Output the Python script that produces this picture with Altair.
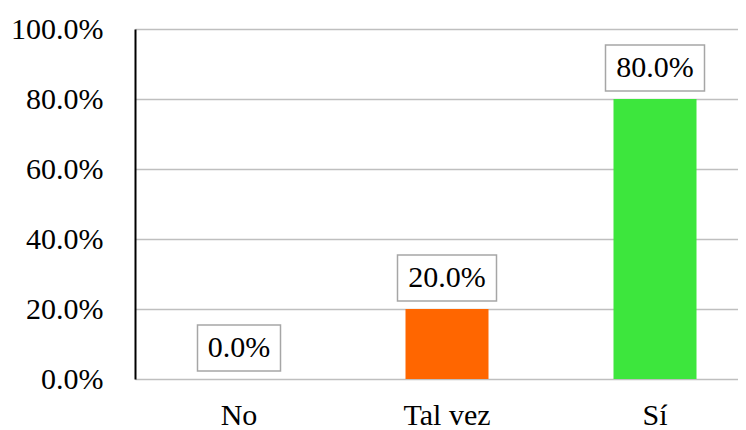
import altair as alt
import pandas as pd

categories = ["No", "Tal vez", "Sí"]
values = [0.0, 0.2, 0.8]
labels = ["0.0%", "20.0%", "80.0%"]
bar_colors = ["#4472C4", "#FF6600", "#3DE63D"]

df = pd.DataFrame({"cat": categories, "val": values, "lab": labels})

FONT = "Liberation Serif"

x_enc = alt.X("cat:N", sort=categories, title=None,
              scale=alt.Scale(range=[0, 624], paddingInner=0, paddingOuter=0),
              axis=alt.Axis(labelAngle=0, domain=False, ticks=False, labelPadding=21,
                            labelFont=FONT, labelFontSize=30, labelColor="black"))
y_enc = alt.Y("val:Q", title=None,
              scale=alt.Scale(domain=[0, 1], nice=False),
              axis=alt.Axis(format=".1%", values=[0, 0.2, 0.4, 0.6, 0.8, 1.0],
                            ticks=False, labelPadding=32, domainColor="black",
                            domainWidth=2, gridColor="#BFBFBF", gridWidth=1.5,
                            labelFont=FONT, labelFontSize=30, labelColor="black"))

base = alt.Chart(df)

bars = base.mark_bar(width=83).encode(
    x=x_enc,
    y=y_enc,
    color=alt.Color("cat:N", scale=alt.Scale(domain=categories, range=bar_colors), legend=None),
)

box_long = base.transform_filter("length(datum.lab) == 5").mark_bar(
    width=99, fill="white", stroke="#A6A6A6", strokeWidth=1.5, yOffset=-8, y2Offset=-54
).encode(x=alt.X("cat:N", sort=categories), y="val:Q", y2="val:Q")

box_short = base.transform_filter("length(datum.lab) != 5").mark_bar(
    width=83, fill="white", stroke="#A6A6A6", strokeWidth=1.5, yOffset=-8, y2Offset=-54
).encode(x=alt.X("cat:N", sort=categories), y="val:Q", y2="val:Q")

text = base.mark_text(font=FONT, fontSize=30, color="black", baseline="middle", dy=-31).encode(
    x=alt.X("cat:N", sort=categories), y="val:Q", text="lab:N"
)

chart = alt.layer(bars, box_long, box_short, text).properties(
    width=603, height=350,
    autosize=alt.AutoSizeParams(type="none"),
    padding={"left": 127, "top": 21, "right": 0, "bottom": 52},
).configure_view(strokeOpacity=0)

chart.save("out.html", embed_options={"renderer": "svg", "actions": False})
